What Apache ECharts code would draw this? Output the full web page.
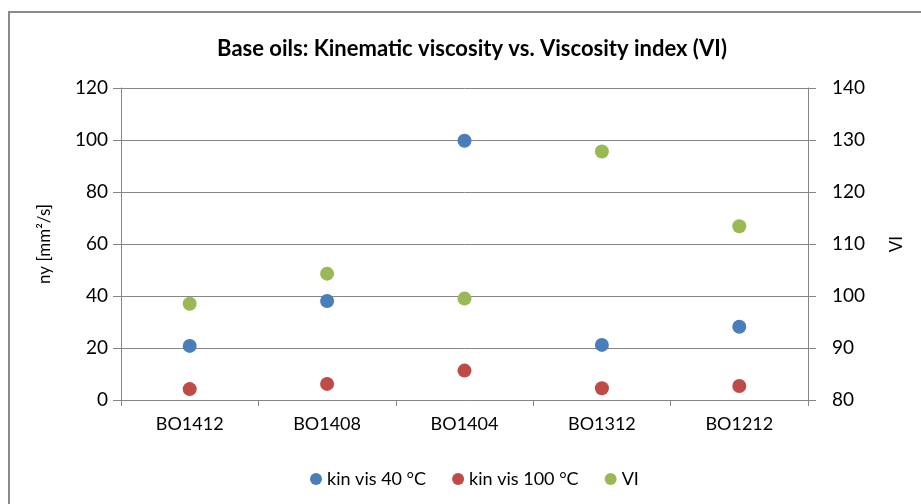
<!DOCTYPE html>
<html>
<head>
<meta charset="utf-8">
<script src="https://cdn.jsdelivr.net/npm/echarts@6/dist/echarts.min.js"></script>
<style>html,body{margin:0;padding:0;background:#fff;}#c{width:921px;height:504px;}</style>
</head>
<body>
<div id="c"></div>
<script>
var categories = ['BO1412', 'BO1408', 'BO1404', 'BO1312', 'BO1212'];
var kinVis40 = [20.8, 38.1, 99.7, 21.2, 28.2];
var kinVis100 = [4.2, 6.2, 11.3, 4.5, 5.4];
var viValues = [98.5, 104.3, 99.5, 127.8, 113.4];
var leftTicks = [0, 120, 20];
var rightTicks = [80, 140, 10];

var FONT = 'Lato';
var chart = echarts.init(document.getElementById('c'));
chart.setOption({
  animation: false,
  backgroundColor: '#ffffff',
  textStyle: { fontFamily: FONT, color: '#000' },
  title: {
    text: 'Base oils: Kinematic viscosity vs. Viscosity index (VI)',
    left: 467, top: 33, textAlign: 'center',
    textStyle: { fontFamily: FONT, fontSize: 22, fontWeight: 'bold', color: '#000' }
  },
  graphic: [{
    type: 'rect', silent: true, z: -1,
    shape: { x: 9, y: 12, width: 1000, height: 600 },
    style: { fill: 'none', stroke: '#8a8a8a', lineWidth: 2 }
  }],
  legend: {
    left: 305, top: 465,
    itemWidth: 12, itemHeight: 12, itemGap: 26, icon: 'circle',
    textStyle: { fontFamily: FONT, fontSize: 18, color: '#000' },
    data: ['kin vis 40 °C', 'kin vis 100 °C', 'VI']
  },
  grid: { left: 121, right: 113, top: 88, bottom: 104 },
  xAxis: {
    type: 'category', data: categories, boundaryGap: true,
    axisLine: { lineStyle: { color: '#868686', width: 1 } },
    axisTick: { show: true, length: 6, lineStyle: { color: '#868686' } },
    axisLabel: { fontFamily: FONT, fontSize: 18, color: '#000', margin: 15 }
  },
  yAxis: [{
    type: 'value', min: leftTicks[0], max: leftTicks[1], interval: leftTicks[2],
    name: 'ny [mm²/s]', nameLocation: 'middle', nameGap: 68,
    nameTextStyle: { fontFamily: FONT, fontSize: 17, color: '#000' },
    axisLine: { show: true, lineStyle: { color: '#868686' } },
    axisTick: { show: true, length: 8, lineStyle: { color: '#868686' } },
    axisLabel: { fontFamily: FONT, fontSize: 19, color: '#000', margin: 13 },
    splitLine: { show: true, lineStyle: { color: '#868686', width: 1 } }
  }, {
    type: 'value', min: rightTicks[0], max: rightTicks[1], interval: rightTicks[2],
    position: 'right',
    name: 'VI', nameLocation: 'middle', nameGap: 80,
    nameTextStyle: { fontFamily: FONT, fontSize: 17, color: '#000' },
    axisLine: { show: true, lineStyle: { color: '#868686' } },
    axisTick: { show: true, length: 8, lineStyle: { color: '#868686' } },
    axisLabel: { fontFamily: FONT, fontSize: 19, color: '#000', margin: 24 },
    splitLine: { show: false }
  }],
  series: [{
    name: 'kin vis 40 °C', type: 'scatter', yAxisIndex: 0, data: kinVis40,
    symbolSize: 14, itemStyle: { color: '#4A7EBB', opacity: 1 }
  }, {
    name: 'kin vis 100 °C', type: 'scatter', yAxisIndex: 0, data: kinVis100,
    symbolSize: 14, itemStyle: { color: '#BE4B48', opacity: 1 }
  }, {
    name: 'VI', type: 'scatter', yAxisIndex: 1, data: viValues,
    symbolSize: 14, itemStyle: { color: '#98B954', opacity: 1 }
  }]
});
</script>
</body>
</html>
